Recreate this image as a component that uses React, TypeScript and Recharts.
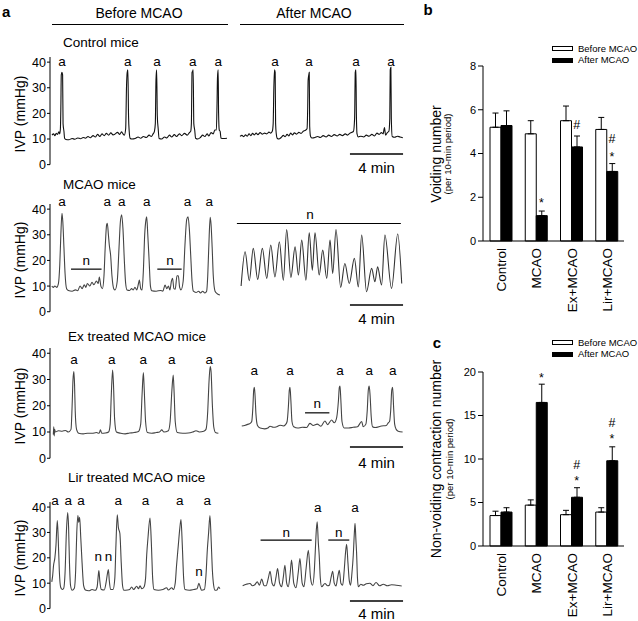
import React from 'react';
import { LineChart, Line, XAxis, YAxis, ReferenceLine, ReferenceDot, BarChart, Bar, ErrorBar } from 'recharts';

type P = [number, number];
type NMark = { t0?: number; t1?: number; y?: number; lt: number; ly: number };

// ---- panel a: IVP traces (t in s, IVP in mmHg) ----
const ctrlBefore: P[] = [[9,11.5],[16,12],[22,11.3],[28,12.2],[34,11.8],[40,12.8],[44,12],[47,14],[49,22],[51,35],[54,36],[57,35],[59,16],[63,13],[66,10.3],[72,9.8],[85,9.7],[100,10.2],[112,9.9],[125,10.4],[138,10.1],[150,10.6],[160,10.3],[172,11],[182,10.5],[195,11.3],[205,10.8],[215,11.8],[225,11],[235,12],[245,11.3],[255,12.2],[265,11.5],[275,12.4],[285,11.6],[295,12],[305,12.6],[315,11.8],[323,12.8],[330,12],[336,11.5],[342,14],[346,31],[349,36],[352,37],[355,19],[358,13],[362,10.3],[370,10],[385,10.2],[398,10.8],[410,10.3],[422,11],[435,10.6],[448,11.5],[458,11],[466,12],[472,13],[476,16],[479,33],[482,37],[485,19],[489,14],[493,10.2],[505,10],[518,10.8],[528,10.4],[540,11.5],[550,10.8],[562,11.7],[572,11],[585,12],[595,11.3],[608,12.2],[620,11.5],[630,12.5],[636,13],[639,16],[642,36],[645,36.5],[647,37],[650,16],[654,13.5],[658,10.3],[668,10],[680,10.6],[690,11.5],[700,11],[710,12],[718,11.2],[728,12.5],[738,12],[745,13.5],[752,13.5],[755,24],[757,34],[760,37],[762,20],[765,13.5],[769,13],[773,10.3],[785,10.2],[800,10.3]];
const ctrlAfter: P[] = [[9,11],[18,11.4],[26,10.9],[34,11.6],[42,11.1],[50,12],[58,11.3],[66,12.2],[74,11.6],[82,12.3],[90,11.7],[100,12.5],[110,11.9],[120,12.3],[130,12],[140,12.7],[148,12.3],[155,13],[159,16],[162,30],[165,37],[168,36],[170,16],[173,12],[177,10.3],[185,10],[195,10.6],[205,11.4],[213,10.9],[222,11.8],[230,11.2],[238,12.3],[246,11.6],[255,12.4],[265,11.9],[275,12.6],[285,12.2],[295,13],[305,13.4],[312,14],[315,22],[317,33],[320,35],[322,36],[324,15],[328,11],[335,10.4],[348,10.6],[360,11],[372,10.6],[385,11.3],[398,10.8],[410,11.5],[422,11],[435,11.7],[448,11.2],[460,11.8],[472,11.3],[485,12],[495,11.5],[505,12.2],[515,12.6],[522,13],[527,18],[530,36],[533,37],[535,20],[538,12],[544,10.8],[555,11.1],[568,10.8],[580,11.5],[592,11.1],[605,11.8],[617,11.2],[628,12.3],[638,11.8],[648,12.5],[656,12],[662,14.5],[667,11.5],[675,12.5],[682,13],[686,18],[688,37],[691,38],[693,18],[697,11],[708,10.7],[720,11.1],[732,10.8],[745,10.5]];
const mcaoBefore: P[] = [[8,10],[15,9.5],[22,10],[30,9.5],[38,11],[44,18],[49,30],[54,38.4],[58,35],[63,25],[68,15],[75,9],[83,8.3],[100,8],[115,8.5],[125,8.2],[136,10],[145,9],[155,10.5],[162,9.5],[169,11],[180,10],[190,11.5],[198,10.5],[210,12],[218,11],[223,13.5],[230,10],[237,9],[244,14],[250,26],[256,34],[259,34.5],[264,30],[268,26],[274,22],[280,14],[288,9],[294,8.5],[304,12],[312,25],[318,35],[324,37.8],[330,32],[336,20],[342,11],[348,8.5],[360,8.3],[369,9],[376,8.5],[384,9.5],[392,8.5],[400,11],[404,12.3],[410,9],[416,8.5],[422,16],[428,30],[434,36],[437,37],[442,30],[448,20],[454,10],[460,8.2],[480,8],[500,8.3],[510,8],[520,10.4],[528,9],[535,10],[542,8.5],[549,12],[554,13],[560,9],[566,8.8],[574,14],[580,14],[586,9.5],[592,8.5],[602,12],[610,26],[618,36],[624,37],[630,32],[636,22],[642,12],[648,8],[660,7.5],[672,8],[680,7.3],[690,8],[700,7.3],[708,8],[713,14],[718,26],[724,36.8],[728,34],[733,25],[738,14],[746,8],[756,7],[768,6.5]];
const mcaoAfter: P[] = [[14,10],[32,23.4],[51,12.1],[69,24.7],[89,12.6],[110,24.7],[130,13],[148,26],[167,13.6],[187,27.3],[205,12.3],[220,32],[239,13.4],[258,25.3],[273,14.3],[288,27.9],[307,12.3],[322,30.8],[336,16.2],[348,30.8],[367,14.3],[383,24],[401,13],[416,27.9],[428,14.9],[443,32],[464,9.5],[483,18.8],[503,11],[526,20.8],[544,9.7],[559,29.9],[581,7.8],[604,16.9],[619,11.7],[631,17.5],[649,10.4],[664,29.9],[694,9.1],[722,30.3],[740,11]];
const exBefore: P[] = [[15,9],[17,12],[19,8.5],[21,11],[24,10],[38,10.5],[55,10.3],[70,10.6],[83,10],[95,11],[100,20],[104,30],[108,33],[111,28],[114,18],[120,11],[130,9.5],[150,9.3],[170,9.5],[190,9.5],[210,9.8],[222,9.5],[228,10.8],[234,9.5],[250,9.6],[265,10],[272,13],[277,24],[283,33.6],[287,28],[292,15],[300,10],[320,9.5],[340,9.3],[360,9.6],[380,9.8],[400,10.2],[410,13],[416,24],[422,32.6],[426,26],[432,14],[440,9.8],[460,9.5],[480,9.8],[495,10],[505,10.8],[515,10],[535,10.5],[543,14],[551,26],[557,31.7],[561,25],[566,14],[575,9.8],[600,9.5],[625,9.6],[645,10],[660,10.5],[675,10],[695,10.3],[705,11],[713,18],[718,28],[724,34.9],[728,33],[734,20],[740,12],[748,9.8],[761,9.5]];
const exAfter: P[] = [[17,12.3],[30,12.5],[47,13],[55,13.3],[62,14],[67,19],[71,26],[74,27],[77,24],[81,17],[88,12.5],[100,11.5],[120,11.2],[135,11.5],[145,12.2],[160,11.8],[175,12],[190,12.6],[205,12.3],[215,12.8],[222,14],[228,20],[232,26],[235,27],[239,22],[244,14],[252,12],[270,11.5],[290,11.8],[310,11.7],[325,13.3],[340,12.5],[358,13],[375,12.2],[393,14.2],[405,12.8],[423,14.6],[435,13.5],[446,15.5],[454,22],[458,27],[461,27.5],[465,22],[470,14],[480,11.5],[500,11.5],[520,11.8],[540,12],[559,14],[566,12],[578,13],[584,18],[589,26],[593,27.5],[597,24],[602,16],[608,12],[620,11.7],[649,12.3],[670,12.5],[679,13.5],[685,14],[690,18],[695,26],[699,27],[703,20],[708,13],[715,11],[724,10.3],[744,10]];
const lirBefore: P[] = [[8,10.5],[12,13],[16,17],[22,20],[27,25],[33,34.7],[37,28],[42,15],[48,8.5],[55,7.5],[62,8],[68,14],[74,30],[80,37.8],[84,32],[88,18],[93,9],[100,7.2],[110,8],[116,15],[121,30],[126,36.7],[130,34],[134,36],[139,28],[145,18],[152,9],[160,7.3],[175,7],[190,7.5],[205,7.2],[213,8.5],[218,13],[221,15],[225,11],[232,7.5],[245,7.3],[253,10],[260,14],[264,15.4],[268,11],[274,7.5],[285,7.5],[293,12],[298,25],[304,37],[309,32],[316,29.5],[322,18],[328,9],[334,7.2],[350,7.3],[360,7.5],[369,8.5],[378,7.5],[392,8.8],[400,7.8],[407,9],[415,7.8],[425,8.5],[432,12],[437,21],[443,28],[452,35.7],[458,26],[464,12],[470,7.5],[490,7.2],[510,7.5],[527,8.2],[535,7.3],[550,8.2],[558,7.5],[566,10],[572,17],[580,25],[586,31],[592,35.1],[598,25],[604,12],[610,7.5],[630,7.2],[650,7.5],[665,7.8],[673,10],[679,8.5],[685,7.2],[698,7.5],[705,13],[711,23],[717,30],[723,36.7],[728,28],[734,15],[740,9],[746,7.2],[755,7.3],[762,8.5],[768,7.8]];
const lirAfter: P[] = [[21,9],[38,9.6],[54,9.9],[65,9],[76,9.4],[87,10.5],[97,9.2],[107,11.6],[118,9],[127,9],[137,12],[145,14.7],[154,10],[163,8.9],[172,12.5],[179,15.8],[188,10],[197,8.6],[205,12.5],[212,17.1],[220,10],[227,8.6],[236,14],[242,19.1],[252,10],[262,8.2],[272,14],[280,19.7],[290,10],[298,8.6],[308,16],[318,23],[328,12],[337,9.2],[345,15],[349,22],[354,31],[358,34.2],[363,26],[367,21],[372,12],[378,8.6],[393,9.9],[405,9],[413,9.2],[420,12],[428,14.7],[435,10],[443,8.9],[450,12],[458,15.1],[465,10],[473,9.2],[480,15],[486,22],[491,25.3],[497,18],[503,11],[509,9.2],[515,14],[521,21],[526,30],[529,33.6],[533,27],[536,22],[540,12],[544,8.6],[555,9.6],[566,9.2],[580,9.8],[596,10],[610,9],[624,10.3],[640,9],[657,9.6],[675,9],[694,9.4],[715,9.2],[740,8.9]];

// 'a' (voiding) marks: times
const ctrlBeforeA = [54, 352, 484, 645, 760];
const ctrlAfterA = [167, 321, 533, 691];
const mcaoBeforeA = [54, 259, 324, 437, 621, 720];
const exBeforeA = [108, 279, 422, 550, 720];
const exAfterA = [74, 235, 461, 593, 699];
const lirBeforeA = [23, 83, 140, 309, 432, 587, 711];
const lirAfterA = [360, 529];

// 'n' (non-voiding) marks
const mcaoBeforeN: NMark[] = [{ t0: 95, t1: 233, y: 16.6, lt: 164, ly: 19.8 }, { t0: 485, t1: 595, y: 16.6, lt: 542, ly: 19.8 }];
const mcaoAfterN: NMark[] = [{ t0: -5, t1: 736, y: 34.4, lt: 325, ly: 38 }];
const exAfterN: NMark[] = [{ t0: 303, t1: 413, y: 17.3, lt: 358, ly: 20.8 }];
const lirBeforeN: NMark[] = [{ lt: 218, ly: 20.7 }, { lt: 264, ly: 20.7 }, { lt: 673, ly: 14.6 }];
const lirAfterN: NMark[] = [{ t0: 102, t1: 333, y: 27, lt: 218, ly: 30 }, { t0: 408, t1: 503, y: 27, lt: 455, ly: 30 }];

// ---- panels b, c ----
const groups = ['Control', 'MCAO', 'Ex+MCAO', 'Lir+MCAO'];
const voidBefore = [5.2, 4.9, 5.5, 5.1];
const voidBeforeErr = [0.65, 0.6, 0.67, 0.55];
const voidAfter = [5.28, 1.16, 4.3, 3.18];
const voidAfterErr = [0.67, 0.21, 0.5, 0.36];
const nvBefore = [3.5, 4.7, 3.6, 3.9];
const nvBeforeErr = [0.5, 0.6, 0.5, 0.5];
const nvAfter = [3.9, 16.5, 5.6, 9.8];
const nvAfterErr = [0.5, 2.1, 1.1, 1.6];
const voidMarks = [{ g: 'MCAO', y: 1.9, s: '*' }, { g: 'Ex+MCAO', y: 5.3, s: '#' }, { g: 'Lir+MCAO', y: 4.65, s: '#' }, { g: 'Lir+MCAO', y: 3.97, s: '*' }];
const nvMarks = [{ g: 'MCAO', y: 19.7, s: '*' }, { g: 'Ex+MCAO', y: 9.3, s: '#' }, { g: 'Ex+MCAO', y: 7.8, s: '*' }, { g: 'Lir+MCAO', y: 14.1, s: '#' }, { g: 'Lir+MCAO', y: 12.7, s: '*' }];

const FONT = '"Liberation Sans", Arial, sans-serif';

// text label drawn at a reference dot; '*' sits high in its em box, so push it down a bit
const mark = (text: string, size = 13, dx = 0) => (p: any) => {
  const vb = p.viewBox || {};
  const dy = text === '*' ? size * 0.25 : 0;
  return (
    <text x={vb.x + (vb.width || 0) / 2 + dx} y={vb.y + (vb.height || 0) / 2 + dy} textAnchor="middle"
      dominantBaseline="central" fontSize={size} fill="#000" style={{ fill: '#000' }}>{text}</text>
  );
};

const Txt = ({ x, y, size = 14, bold = false, center = false, rot = false, children }: any) => (
  <div style={{
    position: 'absolute', left: x, top: y, fontSize: size, fontWeight: bold ? 'bold' : 'normal', lineHeight: 1,
    whiteSpace: 'nowrap', transform: `translate(${center || rot ? '-50%' : '0'}, -50%)${rot ? ' rotate(-90deg)' : ''}`,
  }}>{children}</div>
);

const Trace = ({ pts, after, y40, y0, color, aTimes, aY, nMarks = [], bar }: any) => {
  const unit = (y0 - y40) / 40;
  const plotTop = y40 - 2 * unit;
  const plotH = 42 * unit;
  const mTop = 20, mBot = 25;
  const left = after ? 228 : 0;
  const mLeft = after ? 10 : 0;
  const width = mLeft + (after ? 0 : 50) + 177 + 15;
  const data = pts.map(([t, v]: P) => ({ t, v }));
  return (
    <div style={{ position: 'absolute', left, top: plotTop - mTop }}>
      <LineChart width={width} height={mTop + plotH + mBot} data={data} margin={{ top: mTop, right: 15, bottom: mBot, left: mLeft }}>
        <XAxis type="number" dataKey="t" domain={[0, 800]} allowDataOverflow hide />
        <YAxis type="number" domain={[0, 42]} allowDataOverflow ticks={[0, 10, 20, 30, 40]} hide={after} width={50}
          tick={{ fill: '#000', fontSize: 12.5 }} tickSize={3} tickMargin={1}
          axisLine={{ stroke: '#000' }} tickLine={{ stroke: '#000' }} />
        <Line type="monotone" dataKey="v" stroke={color} strokeWidth={1.1} dot={false} isAnimationActive={false} />
        {aTimes.map((t: number) => (
          <ReferenceDot key={'a' + t} x={t} y={aY} r={1} fill="none" stroke="none" ifOverflow="visible" label={mark('a', 13.5)} />
        ))}
        {nMarks.map((n: NMark, i: number) => (n.t0 !== undefined ? (
          <ReferenceLine key={'nl' + i} segment={[{ x: n.t0, y: n.y }, { x: n.t1, y: n.y }]} stroke="#000" strokeWidth={1.2} ifOverflow="visible" />
        ) : null))}
        {nMarks.map((n: NMark, i: number) => (
          <ReferenceDot key={'n' + i} x={n.lt} y={n.ly} r={1} fill="none" stroke="none" ifOverflow="visible" label={mark('n', 13.5)} />
        ))}
        {bar && (
          <ReferenceLine segment={[{ x: 506, y: bar[0] }, { x: 746, y: bar[0] }]} stroke="#000" strokeWidth={1.5} ifOverflow="visible" />
        )}
        {bar && (
          <ReferenceDot x={626} y={bar[1]} r={1} fill="none" stroke="none" ifOverflow="visible" label={mark('4 min', 15)} />
        )}
      </LineChart>
    </div>
  );
};

const RotTick = (props: any) => {
  const { x, y, payload } = props;
  return (
    <text transform={`translate(${x + 1},${y + 7}) rotate(-90)`} textAnchor="end" dominantBaseline="central"
      fontSize={13.5} fill="#000">{payload.value}</text>
  );
};

const Bars = ({ top, height, mTop, mBot, data, domain, ticks, marks }: any) => (
  <div style={{ position: 'absolute', left: 420, top }}>
    <BarChart width={218} height={height} data={data} barGap={0} margin={{ top: mTop, right: 14, bottom: mBot, left: 33 }}>
      <XAxis dataKey="g" interval={0} tickLine={false} tickSize={0} tickMargin={0} height={70}
        axisLine={{ stroke: '#000' }} tick={<RotTick />} />
      <YAxis type="number" domain={domain} ticks={ticks} width={30} tick={{ fill: '#000', fontSize: 11 }}
        tickSize={5} tickMargin={2} axisLine={{ stroke: '#000' }} tickLine={{ stroke: '#000' }} />
      <Bar dataKey="before" fill="#fff" stroke="#000" strokeWidth={1} barSize={11} isAnimationActive={false}>
        <ErrorBar dataKey="be" width={3} stroke="#000" strokeWidth={1} direction="y" isAnimationActive={false} />
      </Bar>
      <Bar dataKey="after" fill="#000" stroke="#000" strokeWidth={1} barSize={11} isAnimationActive={false}>
        <ErrorBar dataKey="ae" width={3} stroke="#000" strokeWidth={1} direction="y" isAnimationActive={false} />
      </Bar>
      {marks.map((m: any, i: number) => (
        <ReferenceDot key={i} x={m.g} y={m.y} r={1} fill="none" stroke="none" ifOverflow="visible" label={mark(m.s, 12.5, 5.5)} />
      ))}
    </BarChart>
  </div>
);

const Legend = ({ y }: { y: number }) => (
  <>
    <div style={{ position: 'absolute', left: 552, top: y - 2.5, width: 19, height: 3, border: '1px solid #000', background: '#fff' }} />
    <Txt x={578} y={y} size={9.5}>Before MCAO</Txt>
    <div style={{ position: 'absolute', left: 552, top: y + 9, width: 21, height: 5, background: '#000' }} />
    <Txt x={578} y={y + 11.5} size={9.5}>After MCAO</Txt>
  </>
);

export default function App() {
  const voidData = groups.map((g, i) => ({ g, before: voidBefore[i], after: voidAfter[i], be: [0, voidBeforeErr[i]], ae: [0, voidAfterErr[i]] }));
  const nvData = groups.map((g, i) => ({ g, before: nvBefore[i], after: nvAfter[i], be: [0, nvBeforeErr[i]], ae: [0, nvAfterErr[i]] }));
  return (
    <div style={{ position: 'absolute', left: 0, top: 0, width: 638, height: 621, background: '#fff', fontFamily: FONT, color: '#000', overflow: 'hidden' }}>
      <Txt x={2} y={11} size={15} bold>a</Txt>
      <Txt x={139} y={13} size={14} center>Before MCAO</Txt>
      <div style={{ position: 'absolute', left: 52, top: 24, width: 176, borderTop: '1px solid #000' }} />
      <Txt x={314} y={13} size={14} center>After MCAO</Txt>
      <div style={{ position: 'absolute', left: 240, top: 24, width: 164, borderTop: '1px solid #000' }} />

      <Txt x={63} y={43} size={13.5}>Control mice</Txt>
      <Txt x={63} y={185} size={13.5}>MCAO mice</Txt>
      <Txt x={68} y={337} size={13.5}>Ex treated MCAO mice</Txt>
      <Txt x={68} y={478} size={13.5}>Lir treated MCAO mice</Txt>
      {[113.5, 260.3, 405.5, 557.8].map((y) => (
        <Txt key={y} x={20} y={y} size={14} rot>IVP (mmHg)</Txt>
      ))}

      <Trace pts={ctrlBefore} y40={62} y0={164.5} color="#111" aTimes={ctrlBeforeA} aY={40.3} />
      <Trace pts={ctrlAfter} after y40={62} y0={164.5} color="#111" aTimes={ctrlAfterA} aY={40.3} bar={[4.1, -1]} />
      <Trace pts={mcaoBefore} y40={209} y0={311.6} color="#444" aTimes={mcaoBeforeA} aY={42.8} nMarks={mcaoBeforeN} />
      <Trace pts={mcaoAfter} after y40={209} y0={311.6} color="#333" aTimes={[]} aY={0} nMarks={mcaoAfterN} bar={[2.6, -2.5]} />
      <Trace pts={exBefore} y40={353} y0={458} color="#444" aTimes={exBeforeA} aY={37.6} />
      <Trace pts={exAfter} after y40={353} y0={458} color="#444" aTimes={exAfterA} aY={33.5} nMarks={exAfterN} bar={[4.3, -1.5]} />
      <Trace pts={lirBefore} y40={507} y0={608.5} color="#444" aTimes={lirBeforeA} aY={42.4} nMarks={lirBeforeN} />
      <Trace pts={lirAfter} after y40={507} y0={608.5} color="#444" aTimes={lirAfterA} aY={39.7} nMarks={lirAfterN} bar={[3, -1.8]} />

      <Bars top={40} height={280} mTop={26} mBot={9} data={voidData} domain={[0, 8]} ticks={[0, 2, 4, 6, 8]} marks={voidMarks} />
      <Bars top={345} height={276} mTop={27} mBot={5} data={nvData} domain={[0, 20]} ticks={[0, 5, 10, 15, 20]} marks={nvMarks} />

      <Txt x={428} y={9} size={15} bold center>b</Txt>
      <Legend y={48.5} />
      <Txt x={436} y={153.5} size={14} rot>Voiding number</Txt>
      <Txt x={448} y={153.5} size={9.5} rot>(per 10-min period)</Txt>

      <Txt x={437} y={342} size={15} bold center>c</Txt>
      <Legend y={342.5} />
      <Txt x={436} y={459} size={14} rot>Non-voiding contraction number</Txt>
      <Txt x={450} y={459} size={9.5} rot>(per 10-min period)</Txt>
    </div>
  );
}
